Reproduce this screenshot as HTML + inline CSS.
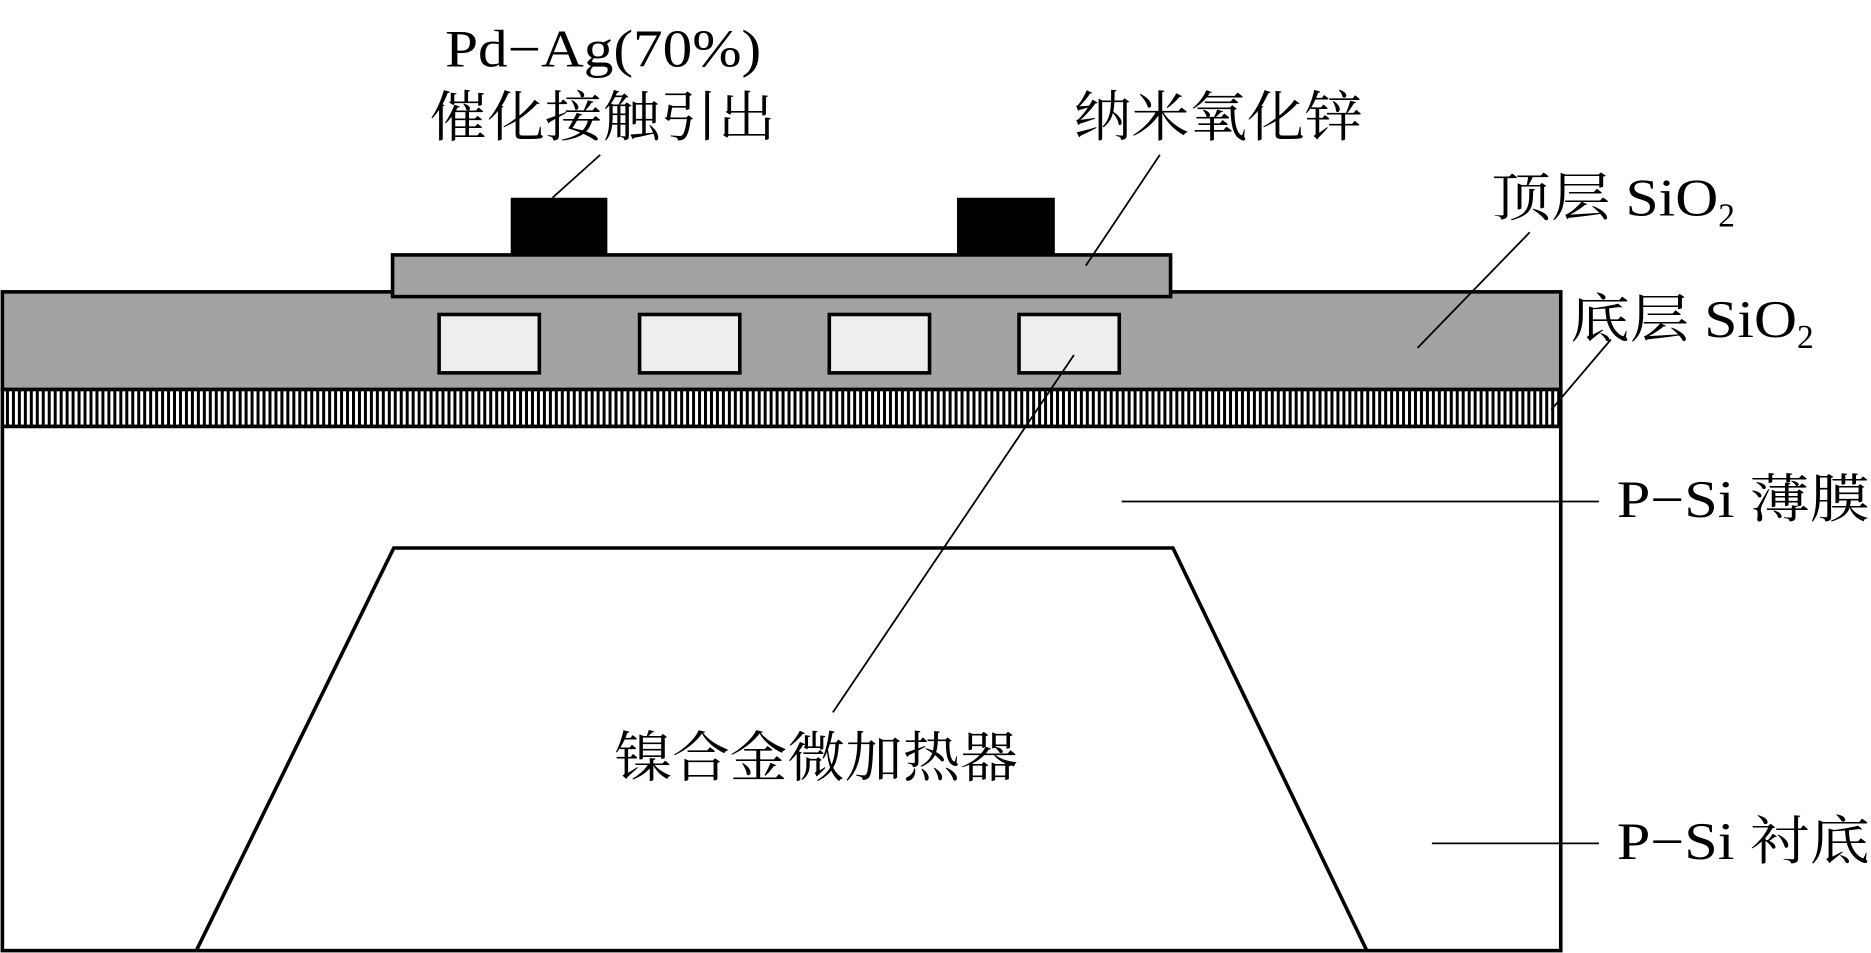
<!DOCTYPE html>
<html><head><meta charset="utf-8"><style>html,body{margin:0;padding:0;background:#fff}svg{display:block}</style></head>
<body>
<svg width="1871" height="953" viewBox="0 0 1568 800" preserveAspectRatio="none" xmlns="http://www.w3.org/2000/svg">
<defs>
<pattern id="h" width="5" height="40" patternUnits="userSpaceOnUse">
<rect width="5" height="40" fill="#fff"/><rect x="0" width="2.5" height="40" fill="#000"/>
</pattern>
</defs>
<rect x="2" y="245" width="1306" height="82" fill="#a3a3a3" stroke="#000" stroke-width="3"/>
<rect x="2" y="327" width="1306" height="31" fill="url(#h)" stroke="#000" stroke-width="3"/>
<rect x="2" y="358" width="1306" height="440" fill="#fff" stroke="#000" stroke-width="3"/>
<polyline points="165,797 330,460 983,460 1145,797" fill="none" stroke="#000" stroke-width="3"/>
<rect x="329" y="214" width="652" height="35" fill="#a3a3a3" stroke="#000" stroke-width="3"/>
<rect x="428" y="166" width="81" height="48" fill="#000"/>
<rect x="802" y="166" width="82" height="48" fill="#000"/>
<g fill="#eee" stroke="#000" stroke-width="3">
<rect x="368" y="264" width="84" height="49"/><rect x="536" y="264" width="84" height="49"/>
<rect x="695" y="264" width="84" height="49"/><rect x="854" y="264" width="84" height="49"/>
</g>
<g stroke="#000" stroke-width="1.5" fill="none">
<line x1="463" y1="166" x2="503" y2="130"/>
<line x1="910" y1="223" x2="972" y2="130"/>
<line x1="1188" y1="292" x2="1282" y2="195"/>
<line x1="1300" y1="344" x2="1350" y2="285"/>
<line x1="940" y1="421" x2="1340" y2="421"/>
<line x1="1200" y1="708" x2="1340" y2="708"/>
<line x1="900" y1="298" x2="698" y2="598"/>
</g>
<g font-family="Liberation Serif, Noto Serif CJK SC, serif" fill="#000">
<text x="373" y="56" font-size="44" textLength="265" lengthAdjust="spacingAndGlyphs">Pd−Ag(70%)</text>
<text x="360" y="114" font-size="46" textLength="290" lengthAdjust="spacingAndGlyphs">催化接触引出</text>
<text x="900" y="114" font-size="46" textLength="242" lengthAdjust="spacingAndGlyphs">纳米氧化锌</text>
<text x="1250" y="181" font-size="44" textLength="190" lengthAdjust="spacingAndGlyphs">顶层 SiO</text>
<text x="1440" y="190" font-size="28">2</text>
<text x="1316" y="283" font-size="44" textLength="190" lengthAdjust="spacingAndGlyphs">底层 SiO</text>
<text x="1506" y="292" font-size="28">2</text>
<text x="1355" y="434" font-size="44" textLength="212" lengthAdjust="spacingAndGlyphs">P−Si 薄膜</text>
<text x="1355" y="721" font-size="44" textLength="212" lengthAdjust="spacingAndGlyphs">P−Si 衬底</text>
<text x="515" y="652" font-size="46" textLength="338" lengthAdjust="spacingAndGlyphs">镍合金微加热器</text>
</g>
</svg>
</body></html>
